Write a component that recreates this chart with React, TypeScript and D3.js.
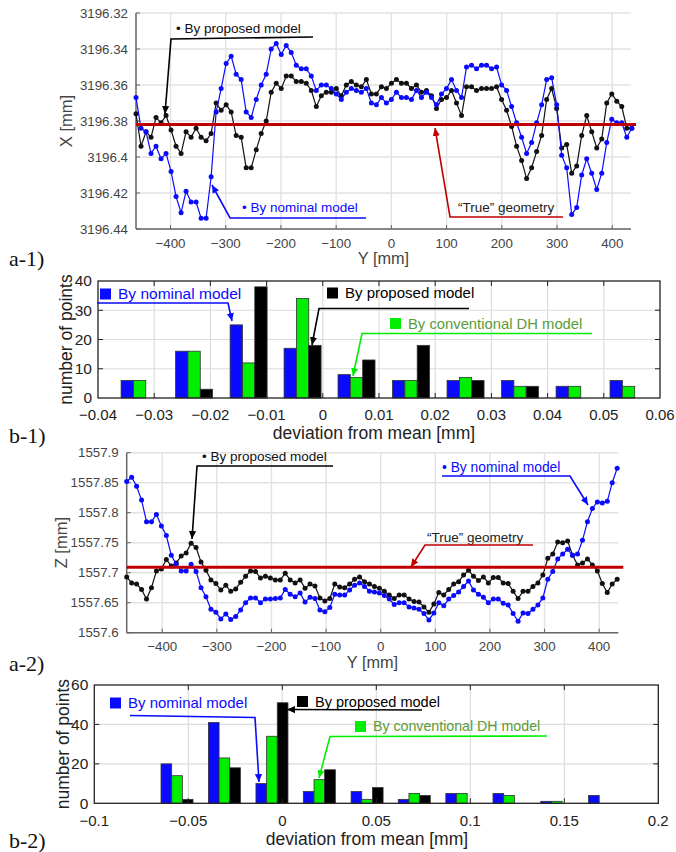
import React from 'react';
import * as d3 from 'd3';

const FONT = '"Liberation Sans", Arial, Helvetica, sans-serif';
const SERIF = '"Liberation Serif", "Times New Roman", serif';
const BLUE = '#0a0aff';
const GREEN = '#00ee00';
const GREEN_TEXT = '#5a9c3a';
const RED = '#c00000';

// ---- a-1) X coordinate along the Y scan ----
const a1Start = -462.5; // Y of the first measured point [mm]
const a1Step = 9.07;    // spacing of the measured points [mm]
const a1Proposed = [
  3196.376, 3196.394, 3196.386, 3196.389, 3196.378, 3196.381, 3196.377, 3196.385, 3196.394, 3196.398,
  3196.386, 3196.389, 3196.384, 3196.389, 3196.391, 3196.387, 3196.370, 3196.374, 3196.371, 3196.375,
  3196.388, 3196.389, 3196.406, 3196.406, 3196.396, 3196.387, 3196.380, 3196.364, 3196.359, 3196.362,
  3196.355, 3196.355, 3196.358, 3196.358, 3196.359, 3196.363, 3196.372, 3196.366, 3196.364, 3196.364,
  3196.362, 3196.366, 3196.360, 3196.358, 3196.360, 3196.361, 3196.357, 3196.365, 3196.365, 3196.361,
  3196.362, 3196.359, 3196.357, 3196.359, 3196.359, 3196.362, 3196.360, 3196.364, 3196.363, 3196.366,
  3196.373, 3196.368, 3196.367, 3196.363, 3196.370, 3196.377, 3196.361, 3196.361, 3196.363, 3196.362,
  3196.362, 3196.362, 3196.361, 3196.368, 3196.374, 3196.383, 3196.394, 3196.402, 3196.412, 3196.406,
  3196.397, 3196.388, 3196.368, 3196.362, 3196.373, 3196.395, 3196.393, 3196.409, 3196.405, 3196.388,
  3196.377, 3196.386, 3196.395, 3196.390, 3196.370, 3196.365, 3196.369, 3196.372, 3196.384, 3196.384,
];
const a1Nominal = [
  3196.367, 3196.384, 3196.386, 3196.398, 3196.394, 3196.401, 3196.398, 3196.408, 3196.422, 3196.431,
  3196.419, 3196.425, 3196.425, 3196.434, 3196.434, 3196.411, 3196.375, 3196.362, 3196.348, 3196.344,
  3196.354, 3196.357, 3196.375, 3196.378, 3196.368, 3196.360, 3196.354, 3196.340, 3196.337, 3196.343,
  3196.338, 3196.342, 3196.349, 3196.351, 3196.351, 3196.355, 3196.363, 3196.360, 3196.360, 3196.362,
  3196.365, 3196.368, 3196.364, 3196.362, 3196.363, 3196.364, 3196.362, 3196.370, 3196.371, 3196.367,
  3196.370, 3196.368, 3196.364, 3196.367, 3196.367, 3196.368, 3196.363, 3196.367, 3196.364, 3196.367,
  3196.371, 3196.365, 3196.362, 3196.357, 3196.363, 3196.367, 3196.350, 3196.349, 3196.351, 3196.349,
  3196.349, 3196.351, 3196.350, 3196.360, 3196.363, 3196.372, 3196.381, 3196.389, 3196.398, 3196.392,
  3196.381, 3196.371, 3196.357, 3196.356, 3196.371, 3196.399, 3196.406, 3196.432, 3196.428, 3196.410,
  3196.401, 3196.409, 3196.418, 3196.409, 3196.392, 3196.379, 3196.381, 3196.381, 3196.389, 3196.384,
];
const a1True = 3196.382;
const a1Ticks = [3196.32, 3196.34, 3196.36, 3196.38, 3196.4, 3196.42, 3196.44];

// ---- a-2) Z coordinate along the Y scan ----
const a2Start = -465;
const a2Step = 9.07;
const a2Proposed = [
  1557.693, 1557.683, 1557.681, 1557.672, 1557.656, 1557.675, 1557.703, 1557.706, 1557.722, 1557.711,
  1557.716, 1557.728, 1557.733, 1557.749, 1557.742, 1557.718, 1557.704, 1557.688, 1557.682, 1557.671,
  1557.679, 1557.669, 1557.673, 1557.684, 1557.694, 1557.703, 1557.702, 1557.691, 1557.694, 1557.691,
  1557.688, 1557.688, 1557.699, 1557.688, 1557.683, 1557.688, 1557.674, 1557.681, 1557.678, 1557.658,
  1557.653, 1557.657, 1557.681, 1557.676, 1557.675, 1557.681, 1557.689, 1557.693, 1557.685, 1557.681,
  1557.677, 1557.674, 1557.669, 1557.663, 1557.657, 1557.663, 1557.663, 1557.656, 1557.652, 1557.651,
  1557.643, 1557.634, 1557.648, 1557.667, 1557.663, 1557.672, 1557.681, 1557.685, 1557.696, 1557.704,
  1557.694, 1557.687, 1557.693, 1557.683, 1557.692, 1557.692, 1557.683, 1557.682, 1557.669, 1557.657,
  1557.669, 1557.669, 1557.677, 1557.683, 1557.696, 1557.724, 1557.731, 1557.751, 1557.750, 1557.753,
  1557.729, 1557.713, 1557.716, 1557.723, 1557.713, 1557.703, 1557.682, 1557.667, 1557.681, 1557.689,
];
const a2Nominal = [
  1557.852, 1557.859, 1557.844, 1557.821, 1557.785, 1557.785, 1557.797, 1557.778, 1557.762, 1557.729,
  1557.714, 1557.703, 1557.703, 1557.714, 1557.702, 1557.675, 1557.660, 1557.639, 1557.634, 1557.623,
  1557.631, 1557.622, 1557.627, 1557.638, 1557.650, 1557.658, 1557.658, 1557.650, 1557.656, 1557.656,
  1557.657, 1557.658, 1557.672, 1557.664, 1557.660, 1557.666, 1557.651, 1557.659, 1557.657, 1557.638,
  1557.635, 1557.642, 1557.664, 1557.663, 1557.663, 1557.671, 1557.679, 1557.683, 1557.677, 1557.669,
  1557.668, 1557.666, 1557.662, 1557.656, 1557.647, 1557.650, 1557.650, 1557.643, 1557.641, 1557.639,
  1557.632, 1557.621, 1557.633, 1557.650, 1557.645, 1557.656, 1557.662, 1557.668, 1557.677, 1557.686,
  1557.671, 1557.664, 1557.659, 1557.650, 1557.656, 1557.656, 1557.649, 1557.646, 1557.632, 1557.619,
  1557.633, 1557.632, 1557.639, 1557.646, 1557.658, 1557.689, 1557.702, 1557.723, 1557.731, 1557.739,
  1557.729, 1557.731, 1557.754, 1557.785, 1557.807, 1557.818, 1557.816, 1557.819, 1557.850, 1557.874,
];
const a2True = 1557.709;
const a2Ticks = [1557.6, 1557.65, 1557.7, 1557.75, 1557.8, 1557.85, 1557.9];

const scanTicks = [-400, -300, -200, -100, 0, 100, 200, 300, 400];

// ---- b-1) histogram of X deviation ----
const b1Centers = [-0.0326, -0.0229, -0.0132, -0.0036, 0.006, 0.0157, 0.0254, 0.0351, 0.0448, 0.0544];
const b1Nominal = [6, 16, 25, 17, 8, 6, 6, 6, 4, 6];
const b1DH = [6, 16, 12, 34, 7, 6, 7, 4, 4, 4];
const b1Proposed = [0, 3, 38, 18, 13, 18, 6, 4, 0, 0];
const b1Ticks = [-0.04, -0.03, -0.02, -0.01, 0, 0.01, 0.02, 0.03, 0.04, 0.05, 0.06];
const b1Counts = [0, 10, 20, 30, 40];

// ---- b-2) histogram of Z deviation ----
const b2Centers = [-0.056, -0.0308, -0.0055, 0.0197, 0.0451, 0.0702, 0.0955, 0.1206, 0.146, 0.1714];
const b2Nominal = [20, 41, 10, 6, 6, 2, 5, 5, 1, 4];
const b2DH = [14, 23, 34, 12, 2, 5, 5, 4, 1, 0];
const b2Proposed = [2, 18, 51, 17, 8, 4, 0, 0, 0, 0];
const b2Ticks = [-0.1, -0.05, 0, 0.05, 0.1, 0.15, 0.2];
const b2Counts = [0, 20, 40, 60];

const minus = (t: number) => String(t).replace('-', '\u2212');

function LinePanel({ box, scanDomain, valueDomain, valueTicks, start, step, proposed, nominal, trueValue, yTitle, yTitleX, xTitleDy }: any) {
  const [left, right, top, bottom] = box;
  const x = d3.scaleLinear().domain(scanDomain).range([left, right]);
  const v = d3.scaleLinear().domain(valueDomain).range([top, bottom]);
  const line = d3.line<number>().x((_, i) => x(start + i * step)).y((d) => v(d));
  const series = [
    { name: 'proposed', data: proposed, color: '#111' },
    { name: 'nominal', data: nominal, color: BLUE },
  ];

  return (
    <g>
      {scanTicks.map((t) => (
        <line key={'gx' + t} x1={x(t)} x2={x(t)} y1={top} y2={bottom} stroke="#e2e2e2" strokeWidth={1.4} />
      ))}
      {valueTicks.map((t: number) => (
        <line key={'gy' + t} x1={left} x2={right} y1={v(t)} y2={v(t)} stroke="#e2e2e2" strokeWidth={1.4} />
      ))}
      <line x1={left} x2={left} y1={top} y2={bottom} stroke="#666" strokeWidth={1.5} />
      <line x1={left} x2={right} y1={bottom} y2={bottom} stroke="#666" strokeWidth={1.5} />
      {scanTicks.map((t) => (
        <line key={'tx' + t} x1={x(t)} x2={x(t)} y1={bottom} y2={bottom - 4} stroke="#666" />
      ))}
      {valueTicks.map((t: number) => (
        <line key={'ty' + t} x1={left} x2={left + 4} y1={v(t)} y2={v(t)} stroke="#666" />
      ))}
      {scanTicks.map((t) => (
        <text key={'lx' + t} x={x(t)} y={bottom + 14} dy="0.35em" textAnchor="middle" fontSize={13.3} fill="#444">
          {minus(t)}
        </text>
      ))}
      {valueTicks.map((t: number) => (
        <text key={'ly' + t} x={left - 8} y={v(t)} dy="0.35em" textAnchor="end" fontSize={13.3} fill="#444">
          {String(t)}
        </text>
      ))}
      <text x={(left + right) / 2} y={bottom + xTitleDy} dy="0.35em" textAnchor="middle" fontSize={16.3} fill="#444">
        Y [mm]
      </text>
      <text transform={`translate(${yTitleX},${(top + bottom) / 2}) rotate(-90)`} dy="0.35em" textAnchor="middle" fontSize={16.5} fill="#444">
        {yTitle}
      </text>
      {series.map((s) => (
        <g key={s.name}>
          <path d={line(s.data) || ''} fill="none" stroke={s.color} strokeWidth={1.2} />
          {s.data.map((d: number, i: number) => (
            <circle key={i} cx={x(start + i * step)} cy={v(d)} r={2.5} fill={s.color} />
          ))}
        </g>
      ))}
      <line x1={left} x2={right + 5} y1={v(trueValue)} y2={v(trueValue)} stroke={RED} strokeWidth={3} />
    </g>
  );
}

function BarPanel({ box, xDomain, xTicks, yMax, yTicks, centers, nominal, dh, proposed, groupW, tickDy, titleX, titleY, yTitleX }: any) {
  const [left, right, top, bottom] = box;
  const x = d3.scaleLinear().domain(xDomain).range([left, right]);
  const y = d3.scaleLinear().domain([0, yMax]).range([bottom, top]);
  const sub = d3.scaleBand().domain(['nominal', 'dh', 'proposed']).range([-groupW / 2, groupW / 2]);
  const series = [
    { key: 'nominal', data: nominal, color: BLUE },
    { key: 'dh', data: dh, color: GREEN },
    { key: 'proposed', data: proposed, color: '#000' },
  ];
  const innerX = xTicks.slice(1, -1);
  const innerY = yTicks.slice(1, -1);

  return (
    <g>
      {innerX.map((t: number) => (
        <line key={'gx' + t} x1={x(t)} x2={x(t)} y1={top} y2={bottom} stroke="#dcdcdc" strokeWidth={1.2} />
      ))}
      {innerY.map((t: number) => (
        <line key={'gy' + t} x1={left} x2={right} y1={y(t)} y2={y(t)} stroke="#dcdcdc" strokeWidth={1.2} />
      ))}
      {series.map((s) =>
        s.data.map((d: number, i: number) => (
          <rect
            key={s.key + i}
            x={x(centers[i]) + (sub(s.key) || 0)}
            y={y(d)}
            width={sub.bandwidth()}
            height={bottom - y(d)}
            fill={s.color}
            stroke="#333"
            strokeWidth={0.8}
          />
        ))
      )}
      {innerX.map((t: number) => (
        <g key={'tx' + t} stroke="#222">
          <line x1={x(t)} x2={x(t)} y1={bottom} y2={bottom - 5} />
          <line x1={x(t)} x2={x(t)} y1={top} y2={top + 5} />
        </g>
      ))}
      {innerY.map((t: number) => (
        <g key={'ty' + t} stroke="#222">
          <line x1={left} x2={left + 5} y1={y(t)} y2={y(t)} />
          <line x1={right} x2={right - 5} y1={y(t)} y2={y(t)} />
        </g>
      ))}
      <rect x={left} y={top} width={right - left} height={bottom - top} fill="none" stroke="#222" strokeWidth={1.3} />
      {xTicks.map((t: number) => (
        <text key={'lx' + t} x={x(t)} y={bottom + tickDy} dy="0.35em" textAnchor="middle" fontSize={15} fill="#222">
          {minus(t)}
        </text>
      ))}
      {yTicks.map((t: number) => (
        <text key={'ly' + t} x={left - 6} y={y(t)} dy="0.35em" textAnchor="end" fontSize={15.5} fill="#222">
          {t}
        </text>
      ))}
      <text x={titleX} y={titleY} dy="0.35em" textAnchor="middle" fontSize={17.5} fill="#222">
        deviation from mean [mm]
      </text>
      <text transform={`translate(${yTitleX},${(top + bottom) / 2}) rotate(-90)`} dy="0.35em" textAnchor="middle" fontSize={17.5} fill="#222">
        number of points
      </text>
    </g>
  );
}

const heads: [string, string][] = [
  ['k', '#000'],
  ['b', BLUE],
  ['r', RED],
  ['g', GREEN],
];

function Pointer({ pts, c, color }: { pts: [number, number][]; c: string; color: string }) {
  return <path d={d3.line()(pts) || ''} fill="none" stroke={color} strokeWidth={1.6} markerEnd={`url(#ah-${c})`} />;
}

function Legend({ x, y, color, text, textColor, size }: any) {
  return (
    <g>
      <rect x={x} y={y - 5.5} width={11} height={11} fill={color} />
      <text x={x + 18} y={y} dy="0.35em" fontSize={size} fill={textColor}>
        {text}
      </text>
    </g>
  );
}

export default function App() {
  return (
    <svg width={676} height={852} style={{ position: 'absolute', left: 0, top: 0, background: '#fff' }} fontFamily={FONT}>
      <defs>
        {heads.map(([id, color]) => (
          <marker key={id} id={`ah-${id}`} viewBox="0 0 10 10" refX={10} refY={5} markerWidth={8} markerHeight={8} markerUnits="userSpaceOnUse" orient="auto">
            <path d="M0,0.5 L10,5 L0,9.5 z" fill={color} />
          </marker>
        ))}
      </defs>

      <LinePanel
        box={[136, 631, 13, 229]}
        scanDomain={[-462.5, 434]}
        valueDomain={[3196.32, 3196.44]}
        valueTicks={a1Ticks}
        start={a1Start}
        step={a1Step}
        proposed={a1Proposed}
        nominal={a1Nominal}
        trueValue={a1True}
        yTitle="X [mm]"
        yTitleX={66}
        xTitleDy={29.5}
      />
      <BarPanel
        box={[98, 660, 281, 398]}
        xDomain={[-0.04, 0.06]}
        xTicks={b1Ticks}
        yMax={40}
        yTicks={b1Counts}
        centers={b1Centers}
        nominal={b1Nominal}
        dh={b1DH}
        proposed={b1Proposed}
        groupW={37}
        tickDy={16.5}
        titleX={374}
        titleY={433}
        yTitleX={66}
      />
      <LinePanel
        box={[126.7, 618.3, 452.7, 632.7]}
        scanDomain={[-465, 435]}
        valueDomain={[1557.9, 1557.6]}
        valueTicks={a2Ticks}
        start={a2Start}
        step={a2Step}
        proposed={a2Proposed}
        nominal={a2Nominal}
        trueValue={a2True}
        yTitle="Z [mm]"
        yTitleX={61}
        xTitleDy={29.5}
      />
      <BarPanel
        box={[94.3, 658.3, 685, 803.3]}
        xDomain={[-0.1, 0.2]}
        xTicks={b2Ticks}
        yMax={60}
        yTicks={b2Counts}
        centers={b2Centers}
        nominal={b2Nominal}
        dh={b2DH}
        proposed={b2Proposed}
        groupW={32}
        tickDy={17.5}
        titleX={367}
        titleY={839}
        yTitleX={62.5}
      />

      {/* a-1 annotations */}
      <text x={176} y={28} dy="0.35em" fontSize={13.5} fill="#111">• By proposed model</text>
      <Pointer pts={[[313, 37], [171, 39], [165, 114]]} c="k" color="#000" />
      <text x={242} y={207} dy="0.35em" fontSize={13.5} fill={BLUE}>• By nominal model</text>
      <Pointer pts={[[366, 218], [230, 218], [212, 185]]} c="b" color={BLUE} />
      <text x={458} y={207} dy="0.35em" fontSize={13.5} fill="#222">“True” geometry</text>
      <Pointer pts={[[563, 217], [450, 217], [435, 128]]} c="r" color={RED} />

      {/* b-1 annotations */}
      <Legend x={100} y={294} color={BLUE} text="By nominal model" textColor={BLUE} size={15.5} />
      <Pointer pts={[[97, 303], [228, 303], [232, 321]]} c="b" color={BLUE} />
      <Legend x={327} y={293} color="#000" text="By proposed model" textColor="#000" size={15} />
      <Pointer pts={[[469, 308.5], [319, 308.5], [312, 345]]} c="k" color="#000" />
      <Legend x={390} y={323.5} color={GREEN} text="By conventional DH model" textColor={GREEN_TEXT} size={14.8} />
      <Pointer pts={[[592, 333.5], [362, 333.5], [353, 376]]} c="g" color={GREEN} />

      {/* a-2 annotations */}
      <text x={202} y={456} dy="0.35em" fontSize={13.5} fill="#111">• By proposed model</text>
      <Pointer pts={[[333, 466], [197, 466], [192, 539]]} c="k" color="#000" />
      <text x={442} y={467} dy="0.35em" fontSize={13.8} fill={BLUE}>• By nominal model</text>
      <Pointer pts={[[442, 476], [570, 476], [588, 505]]} c="b" color={BLUE} />
      <text x={427} y={537} dy="0.35em" fontSize={13.5} fill="#222">“True” geometry</text>
      <Pointer pts={[[533, 545], [425, 545], [411, 567]]} c="r" color={RED} />

      {/* b-2 annotations */}
      <Legend x={110} y={703} color={BLUE} text="By nominal model" textColor={BLUE} size={15} />
      <Pointer pts={[[130, 715.5], [255, 717.5], [259, 782]]} c="b" color={BLUE} />
      <Legend x={297} y={701.5} color="#000" text="By proposed model" textColor="#000" size={14.5} />
      <Pointer pts={[[422, 710], [287, 709.5]]} c="k" color="#000" />
      <Legend x={355} y={726.5} color={GREEN} text="By conventional DH model" textColor={GREEN_TEXT} size={14.2} />
      <Pointer pts={[[547, 736], [330, 736.5], [319, 778]]} c="g" color={GREEN} />

      {/* panel labels */}
      {[
        ['a-1)', 258],
        ['b-1)', 435],
        ['a-2)', 663],
        ['b-2)', 840],
      ].map(([label, yy]) => (
        <text key={label as string} x={9} y={yy as number} dy="0.35em" fontFamily={SERIF} fontSize={22} fill="#111">
          {label}
        </text>
      ))}
    </svg>
  );
}
